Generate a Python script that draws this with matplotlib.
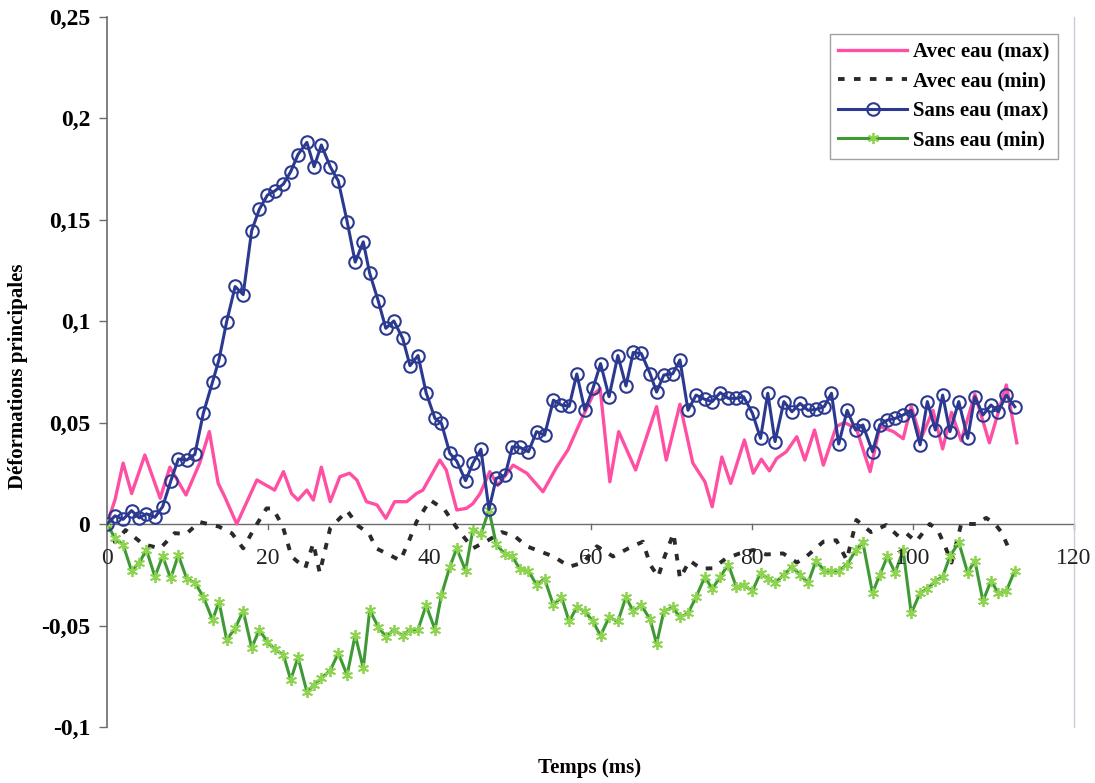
"""Deformations principales avec / sans eau en fonction du temps (style Excel scanne)."""
import matplotlib
matplotlib.use("Agg")
import matplotlib.pyplot as plt
from matplotlib.lines import Line2D
from matplotlib.ticker import FuncFormatter

# --- donnees (temps en ms, deformation) ---
t_sans = [0, 1.0, 2.0, 3.05, 4.0, 4.9, 5.95, 6.9, 7.9, 8.85, 9.9, 10.9,
          11.95, 13.1, 13.9, 14.85, 15.9, 16.9, 17.95, 18.9, 19.9,
          20.8, 21.9, 22.8, 23.7, 24.8, 25.7, 26.6, 27.7, 28.7, 29.8,
          30.8, 31.8, 32.6, 33.65, 34.6, 35.6, 36.7, 37.6, 38.6, 39.6,
          40.7, 41.5, 42.55, 43.4, 44.5, 45.4, 46.4, 47.4, 48.3, 49.4,
          50.3, 51.2, 52.3, 53.3, 54.3, 55.4, 56.4, 57.35, 58.3, 59.3,
          60.3, 61.25, 62.3, 63.4, 64.4, 65.3, 66.3, 67.4, 68.2, 69.1,
          70.2, 71.1, 72.1, 73.1, 74.2, 75.1, 76.1, 77.1, 78.1, 79.0,
          80.1, 81.1, 82.0, 82.9, 84.0, 85.0, 86.0, 87.0, 88.0, 89.0, 89.9,
          90.8, 91.85, 92.9, 93.8, 95.0, 95.9, 96.85, 97.8, 98.8, 99.8,
          100.9, 101.8, 102.8, 103.7, 104.6, 105.7, 106.8, 107.7, 108.7, 109.7,
          110.6, 111.6, 112.65]

sans_max = [0, 0.004, 0.0023, 0.0066, 0.003, 0.005, 0.0033, 0.0085, 0.021, 0.032, 0.0315, 0.0343,
            0.0545, 0.070, 0.081, 0.0997, 0.117, 0.113, 0.1445, 0.155, 0.162,
            0.164, 0.1675, 0.1736, 0.182, 0.188, 0.176, 0.1867, 0.176, 0.169, 0.149,
            0.129, 0.139, 0.1235, 0.110, 0.0964, 0.100, 0.0914, 0.078, 0.083, 0.0647,
            0.052, 0.0496, 0.0348, 0.031, 0.0213, 0.0299, 0.0368, 0.0072, 0.0225, 0.024,
            0.038, 0.0378, 0.0356, 0.0455, 0.0438, 0.061, 0.0586, 0.058, 0.0739, 0.056,
            0.0668, 0.079, 0.0627, 0.083, 0.068, 0.0845, 0.084, 0.074, 0.065, 0.0734,
            0.074, 0.0808, 0.056, 0.0635, 0.0614, 0.0603, 0.0647, 0.0619, 0.0619, 0.0627,
            0.0545, 0.0422, 0.0644, 0.0406, 0.0603, 0.0553, 0.0594, 0.056, 0.0565, 0.0578, 0.0644,
            0.0394, 0.056, 0.0463, 0.0488, 0.0356, 0.0488, 0.0512, 0.052, 0.0537, 0.056,
            0.039, 0.0603, 0.0463, 0.0635, 0.0455, 0.0603, 0.0422, 0.0627, 0.0537, 0.0586,
            0.0553, 0.0635, 0.0578]

sans_min = [0, -0.007, -0.0103, -0.023, -0.019, -0.0128, -0.026, -0.0158, -0.0268, -0.0153, -0.027, -0.0289,
            -0.0358, -0.0473, -0.0383, -0.057, -0.0514, -0.0427, -0.061, -0.0522, -0.058,
            -0.0617, -0.0645, -0.0768, -0.0657, -0.0826, -0.0793, -0.076, -0.0722, -0.0637, -0.0744,
            -0.0547, -0.071, -0.0424, -0.0506, -0.0555, -0.0522, -0.055, -0.052, -0.052, -0.040,
            -0.052, -0.035, -0.021, -0.012, -0.023, -0.003, -0.005, 0.007, -0.010, -0.015,
            -0.016, -0.022, -0.023, -0.030, -0.027, -0.040, -0.036, -0.048, -0.041, -0.043,
            -0.048, -0.055, -0.046, -0.048, -0.036, -0.043, -0.040, -0.047, -0.059, -0.043,
            -0.041, -0.046, -0.044, -0.036, -0.026, -0.032, -0.026, -0.020, -0.031, -0.030,
            -0.033, -0.024, -0.027, -0.029, -0.025, -0.021, -0.025, -0.029, -0.018, -0.023, -0.023,
            -0.023, -0.020, -0.013, -0.009, -0.034, -0.025, -0.016, -0.024, -0.013, -0.044,
            -0.034, -0.032, -0.028, -0.026, -0.016, -0.009, -0.024, -0.018, -0.038, -0.028,
            -0.034, -0.033, -0.023]

t_avec_max = [0, 1, 2, 3.06, 4.7, 6.6, 7.8, 9.8, 11.5, 12.7, 13.8, 14.6, 16.1, 18.6,
              20.8, 21.9, 22.9, 23.7, 24.8, 25.6, 26.6, 27.7, 28.9, 30.1, 31, 32.2,
              33.5, 34.6, 35.7, 37.2, 38.4, 39.2, 41.3, 42.1, 43.4, 44.6, 45.4, 46.3,
              47.5, 48.5, 50.4, 52.1, 54.1, 55.8, 57.2, 58.7, 60.3, 61.2, 62.4, 63.5,
              65.6, 68.2, 69.4, 71.1, 72.7, 74.2, 75.1, 76.3, 77.4, 79.1, 80.2, 81.2,
              82.2, 83.1, 84.3, 85.6, 86.6, 87.8, 88.9, 90.5, 91.5, 93, 94.7, 95.9,
              97.6, 98.8, 99.8, 101, 102.5, 103.7, 104.8, 106, 107.7, 109.5, 111.6, 112.9]
avec_max = [0, 0.012, 0.030, 0.015, 0.034, 0.0127, 0.028, 0.0143, 0.030, 0.0455, 0.020, 0.0135, 0.0, 0.0217,
            0.0167, 0.0258, 0.015, 0.0118, 0.0167, 0.0118, 0.028, 0.011, 0.0233, 0.025, 0.0217, 0.011,
            0.0094, 0.0028, 0.011, 0.011, 0.015, 0.0167, 0.0315, 0.0266, 0.0069, 0.0077, 0.010, 0.015,
            0.0258, 0.019, 0.029, 0.025, 0.0159, 0.028, 0.0365, 0.050, 0.0635, 0.0668, 0.0208, 0.0455,
            0.0266, 0.0578, 0.0315, 0.059, 0.030, 0.0208, 0.0085, 0.033, 0.020, 0.0414, 0.025, 0.0319,
            0.0262, 0.0323, 0.0356, 0.043, 0.0315, 0.0463, 0.029, 0.048, 0.050, 0.047, 0.0258, 0.048,
            0.0455, 0.042, 0.058, 0.042, 0.056, 0.037, 0.055, 0.041, 0.064, 0.040, 0.0685, 0.040]

t_avec_min = [0, 1, 2.3, 4.5, 6.6, 8.4, 9.8, 11.5, 13.9, 15.5, 16.9, 18.3, 19.8, 20.6,
              21.8, 22.9, 24.6, 25.6, 26.4, 27.7, 29.8, 31.2, 32.5, 33.4, 34.7, 36.4,
              37.5, 38.4, 40.1, 41.9, 43.6, 45.4, 47.3, 49.0, 50.6, 52.1, 55.4, 57.4,
              59.1, 60.8, 62.8, 64.7, 66.5, 67.4, 68.4, 69.2, 70.3, 71.1, 72.3, 73.7,
              75.2, 76.8, 78.5, 80.2, 81.8, 83.9, 85.6, 86.8, 88.9, 90.5, 91.8, 93,
              94.8, 96.7, 98.2, 99.2, 100.4, 102.1, 103.1, 104, 104.8, 106, 107.1,
              107.9, 109.1, 110.2, 111, 112]
avec_min = [0, -0.009, -0.003, -0.010, -0.012, -0.0045, -0.005, 0.001, -0.0013, -0.0046, -0.012, -0.002, 0.0077, 0.0075,
            -0.001, -0.016, -0.0218, -0.0095, -0.024, -0.002, 0.0065, -0.001, -0.0046, -0.012, -0.0145, -0.018,
            -0.008, 0.001, 0.0118, 0.007, -0.003, -0.012, -0.008, -0.004, -0.006, -0.011, -0.016, -0.021,
            -0.019, -0.011, -0.016, -0.012, -0.0087, -0.020, -0.026, -0.016, -0.0046, -0.0268, -0.018, -0.022,
            -0.0218, -0.017, -0.0145, -0.0128, -0.015, -0.0145, -0.019, -0.016, -0.0087, -0.008, -0.0177, 0.002,
            -0.004, -0.0005, -0.006, -0.0046, -0.0087, 0.0, -0.003, -0.011, -0.019, 0.0, 0.0,
            0.0, 0.003, 0.0, -0.004, -0.0128]

series_labels = ["Avec eau (max)", "Avec eau (min)", "Sans eau (max)", "Sans eau (min)"]
y_ticks = [-0.1, -0.05, 0, 0.05, 0.1, 0.15, 0.2, 0.25]
x_ticks = [0, 20, 40, 60, 80, 100, 120]

PINK = "#ff4fa3"
BLACK = "#2a2a2a"
NAVY = "#2b3990"
GREEN = "#3f9a35"
GREEN_MK = "#8fd450"
AXIS = "#6b6b6b"
DASH = (0, (1.7, 2.4))

plt.rcParams["font.family"] = ["Liberation Serif", "DejaVu Serif"]

W, H = 1095, 783
fig = plt.figure(figsize=(W / 100, H / 100), dpi=100)
# zone de trace (px): x 107 -> 1074, y 16.5 -> 727
ax = fig.add_axes([107 / W, 1 - 727 / H, 967 / W, 710.5 / H])

ax.plot(t_avec_max, avec_max, color=PINK, lw=2.4, zorder=2, solid_joinstyle="round")
ax.plot(t_avec_min, avec_min, color=BLACK, lw=2.8, ls=DASH, zorder=2)
ax.plot(t_sans, sans_max, color=NAVY, lw=2.2, marker="o", ms=9, mfc="none",
        mec=NAVY, mew=1.5, zorder=4)
ax.plot(t_sans, sans_min, color=GREEN, lw=2.2, marker=(6, 2, 0), ms=8,
        mec=GREEN_MK, mew=1.3, zorder=3)

ax.set_xlim(0, 120)
ax.set_ylim(-0.1, 0.25)
ax.set_yticks(y_ticks)
ax.set_xticks(x_ticks)
ax.yaxis.set_major_formatter(FuncFormatter(lambda v, _p: f"{v:g}".replace(".", ",")))

for s in ("top", "bottom"):
    ax.spines[s].set_visible(False)
ax.spines["left"].set_color(AXIS)
ax.spines["left"].set_linewidth(1.2)
ax.spines["right"].set_color("#c9ced8")
ax.spines["right"].set_linewidth(1.0)
# axe des x sur y = 0
ax.axhline(0, color=AXIS, lw=1.0, zorder=1)

ax.tick_params(axis="y", direction="out", length=6, width=1.0, color=AXIS,
               labelsize=17, pad=6)
ax.tick_params(axis="x", direction="out", length=0, labelsize=16, pad=0)
for lab in ax.get_yticklabels():
    lab.set_fontweight("bold")
# labels x poses sous la ligne y = 0 (comme Excel)
ax.set_xticklabels([])
for xv in x_ticks:
    ax.plot([xv, xv], [0, -0.0025], color=AXIS, lw=1.0, zorder=1, clip_on=False)
    ax.text(xv, -0.0168, f"{xv}", ha="center", va="center", fontsize=17,
            color="#222222", zorder=5)

fig.text(18 / W, 1 - 376 / H, "Déformations principales", rotation=90,
         ha="center", va="center", fontsize=15, fontweight="bold")
fig.text(590 / W, 1 - 768 / H, "Temps (ms)", ha="center", va="center",
         fontsize=15, fontweight="bold")

handles = [
    Line2D([], [], color=PINK, lw=2.4),
    Line2D([], [], color=BLACK, lw=2.8, ls=DASH),
    Line2D([], [], color=NAVY, lw=2.2, marker="o", ms=9, mfc="none", mec=NAVY, mew=1.5),
    Line2D([], [], color=GREEN, lw=2.2, marker=(6, 2, 0), ms=8, mec=GREEN_MK, mew=1.3),
]
leg = ax.legend(handles, series_labels, loc="upper right",
                bbox_to_anchor=((1058 - 107) / 967, (727 - 34) / 710.5),
                frameon=True, fancybox=False, edgecolor="#8a8a8a",
                prop={"weight": "bold", "size": 15}, handlelength=3.3,
                handletextpad=0.3, labelspacing=0.45, borderpad=0.4,
                borderaxespad=0)
leg.get_frame().set_linewidth(1.0)

fig.savefig("out.png", dpi=100)
